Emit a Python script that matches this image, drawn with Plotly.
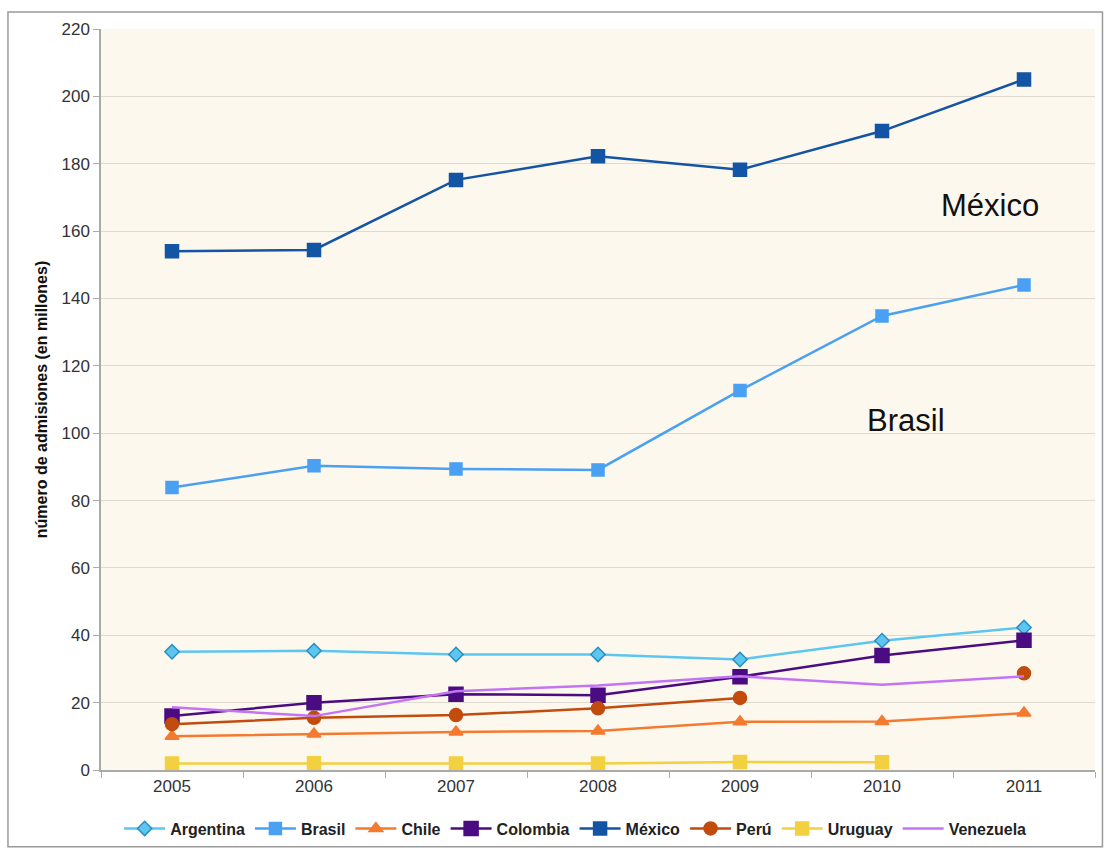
import plotly.graph_objects as go

years = ["2005", "2006", "2007", "2008", "2009", "2010", "2011"]
argentina = [35.1, 35.4, 34.3, 34.3, 32.8, 38.4, 42.3]
brasil = [83.9, 90.3, 89.4, 89.1, 112.7, 134.8, 144.0]
chile = [10.0, 10.7, 11.3, 11.6, 14.3, 14.4, 16.9]
colombia = [16.0, 20.0, 22.5, 22.2, 27.7, 34.0, 38.5]
mexico = [154.0, 154.4, 175.2, 182.2, 178.2, 189.7, 205.0]
peru = [13.6, 15.5, 16.3, 18.3, 21.4, None, 28.7]
uruguay = [1.9, 2.0, 1.9, 1.9, 2.4, 2.3, None]
venezuela = [18.6, 16.0, 23.4, 25.1, 27.8, 25.3, 27.8]

series = [
    ("Argentina", argentina, "#5cc6f0", "diamond", 11, "#2a8fc0"),
    ("Brasil", brasil, "#4aa0f2", "square", 12, "#4aa0f2"),
    ("Chile", chile, "#f47a30", "triangle-up", 12, "#f47a30"),
    ("Colombia", colombia, "#4a0c80", "square", 14, "#4a0c80"),
    ("México", mexico, "#1454a4", "square", 13, "#1454a4"),
    ("Perú", peru, "#c24b0e", "circle", 13, "#c24b0e"),
    ("Uruguay", uruguay, "#f2d040", "square", 13, "#f2d040"),
    ("Venezuela", venezuela, "#c474f2", None, 0, None),
]

fig = go.Figure()
for name, vals, col, sym, size, lc in series:
    if sym is None:
        fig.add_trace(go.Scatter(x=years, y=vals, name=name, mode="lines",
                                 line=dict(color=col, width=2.5)))
    else:
        fig.add_trace(go.Scatter(x=years, y=vals, name=name, mode="lines+markers",
                                 line=dict(color=col, width=2.5),
                                 marker=dict(symbol=sym, size=size, color=col,
                                             line=dict(color=lc, width=1.5))))

fig.add_annotation(x=5.76, y=167.5, text="México", showarrow=False,
                   font=dict(family="Arial", size=31, color="#111"))
fig.add_annotation(x=5.17, y=103.7, text="Brasil", showarrow=False,
                   font=dict(family="Arial", size=31, color="#111"))

# outer frame
fig.add_shape(type="rect", xref="paper", yref="paper",
              x0=-0.0936, x1=1.0075, y0=-0.1035, y1=1.0228,
              line=dict(color="#9a9a9a", width=1.5), fillcolor="rgba(0,0,0,0)",
              layer="below")

fig.update_layout(
    width=1104, height=854,
    margin=dict(l=101, r=9, t=29, b=80),
    paper_bgcolor="white",
    plot_bgcolor="#fdf8ee",
    font=dict(family="Arial", color="#333"),
    showlegend=True,
    legend=dict(orientation="h", x=0.477, xanchor="center", y=-0.079, yanchor="middle",
                font=dict(family="Arial", size=16, color="#222", weight="bold"),
                itemwidth=41, tracegroupgap=0, bgcolor="rgba(0,0,0,0)"),
    xaxis=dict(type="category", range=[-0.5, 6.5], showgrid=False,
               ticks="outside", tickson="boundaries", ticklen=6, tickcolor="#aaa",
               showline=True, linecolor="#aaa", linewidth=1.5,
               tickfont=dict(size=17, color="#333")),
    yaxis=dict(range=[0, 220], dtick=20, showgrid=True, gridcolor="#dedad2",
               ticks="outside", ticklen=6, tickcolor="#aaa",
               showline=True, linecolor="#aaa", linewidth=1.5,
               tickfont=dict(size=17, color="#333"), zeroline=False,
               title=dict(text="número de admisiones (en millones)",
                          font=dict(size=16, color="#111", weight="bold"), standoff=10)),
)

fig.write_html("out.html")
